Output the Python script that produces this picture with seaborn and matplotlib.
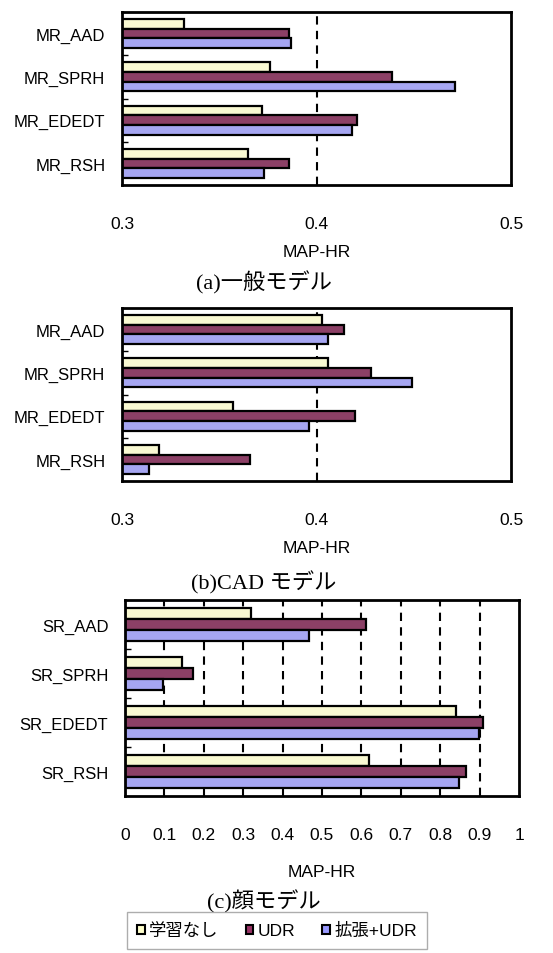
import pandas as pd
import matplotlib
matplotlib.use("Agg")
import matplotlib.pyplot as plt
import seaborn as sns
from matplotlib.patches import Patch
from matplotlib.ticker import FuncFormatter, FixedLocator

# series names and colours
methods = ['学習なし', 'UDR', '拡張+UDR']
colors = ['#FFFFCC', '#993366', '#9999FF']

# (a) 一般モデル
cats_a = ['MR_AAD', 'MR_SPRH', 'MR_EDEDT', 'MR_RSH']
none_a = [0.332, 0.376, 0.372, 0.365]
udr_a = [0.386, 0.439, 0.421, 0.386]
ext_a = [0.387, 0.471, 0.418, 0.373]

# (b) CAD モデル
cats_b = ['MR_AAD', 'MR_SPRH', 'MR_EDEDT', 'MR_RSH']
none_b = [0.403, 0.406, 0.357, 0.319]
udr_b = [0.414, 0.428, 0.420, 0.366]
ext_b = [0.406, 0.449, 0.396, 0.314]

# (c) 顔モデル
cats_c = ['SR_AAD', 'SR_SPRH', 'SR_EDEDT', 'SR_RSH']
none_c = [0.319, 0.145, 0.840, 0.619]
udr_c = [0.611, 0.173, 0.908, 0.865]
ext_c = [0.467, 0.096, 0.898, 0.848]

titles = ['(a)一般モデル', '(b)CAD モデル', '(c)顔モデル']

sns.set_style('white')
plt.rcParams['font.family'] = ['Liberation Sans', 'Noto Sans CJK JP']
plt.rcParams['text.color'] = 'black'
plt.rcParams['xtick.color'] = 'black'
plt.rcParams['ytick.color'] = 'black'
plt.rcParams['axes.labelcolor'] = 'black'

W, H = 553, 954
fig = plt.figure(figsize=(W / 100, H / 100), dpi=100)


def long_df(cats, a, b, c):
    rows = []
    for vals, m in zip([a, b, c], methods):
        for cat, v in zip(cats, vals):
            rows.append({'cat': cat, 'method': m, 'value': v})
    return pd.DataFrame(rows)


def draw(rect, df, xlim, grid, ticks, title, title_y, lpad):
    l, t, r, b = rect
    ax = fig.add_axes([l / W, 1 - b / H, (r - l) / W, (b - t) / H])
    sns.barplot(data=df, x='value', y='cat', hue='method', hue_order=methods,
                palette=colors, orient='h', width=0.67, gap=0,
                edgecolor='black', linewidth=1.6, legend=False, ax=ax)
    ax.set_xlim(*xlim)
    ax.set_ylim(3.5, -0.5)
    for g in grid:
        ax.axvline(g, color='black', ls=(0, (4, 3)), lw=1.5, zorder=0.5)
    ax.set_xticks(ticks)
    ax.xaxis.set_major_formatter(FuncFormatter(lambda v, p: f'{v:g}'))
    ax.tick_params(axis='x', direction='in', length=5, width=1.2, pad=22,
                   labelsize=12.5)
    ax.tick_params(axis='y', length=0, pad=12, labelsize=12)
    ax.yaxis.set_minor_locator(FixedLocator([0.5, 1.5, 2.5]))
    ax.tick_params(axis='y', which='minor', direction='in', length=4,
                   width=1, left=True)
    ax.set_xlabel('MAP-HR', fontsize=12.5, labelpad=lpad)
    ax.set_ylabel('')
    for s in ax.spines.values():
        s.set_linewidth(2)
        s.set_color('black')
    fig.text(264 / W, 1 - title_y / H, title, ha='center', va='center',
             fontsize=16, family=['Liberation Serif', 'Noto Sans CJK JP'])
    return ax


draw((122, 13, 511, 186), long_df(cats_a, none_a, udr_a, ext_a),
     (0.3, 0.5), [0.4], [0.3, 0.4, 0.5], titles[0], 283, 10)
draw((122, 309, 511, 482), long_df(cats_b, none_b, udr_b, ext_b),
     (0.3, 0.5), [0.4], [0.3, 0.4, 0.5], titles[1], 583, 10)
draw((125, 601, 519, 797), long_df(cats_c, none_c, udr_c, ext_c),
     (0, 1), [0.1, 0.2, 0.3, 0.4, 0.5, 0.6, 0.7, 0.8, 0.9],
     [0, 0.1, 0.2, 0.3, 0.4, 0.5, 0.6, 0.7, 0.8, 0.9, 1], titles[2], 902, 16)

handles = [Patch(facecolor=c, edgecolor='black', lw=1.5) for c in colors]
leg = fig.legend(handles, methods, loc='upper center', ncol=3,
                 bbox_to_anchor=(277 / W, 1 - 913 / H), frameon=True,
                 fancybox=False, edgecolor='#999999', fontsize=12.5,
                 handlelength=0.45, handleheight=0.45, handletextpad=0.25,
                 columnspacing=1.55, borderpad=0.6, borderaxespad=0)
leg.get_frame().set_linewidth(1)

fig.savefig('out.png', dpi=100)
